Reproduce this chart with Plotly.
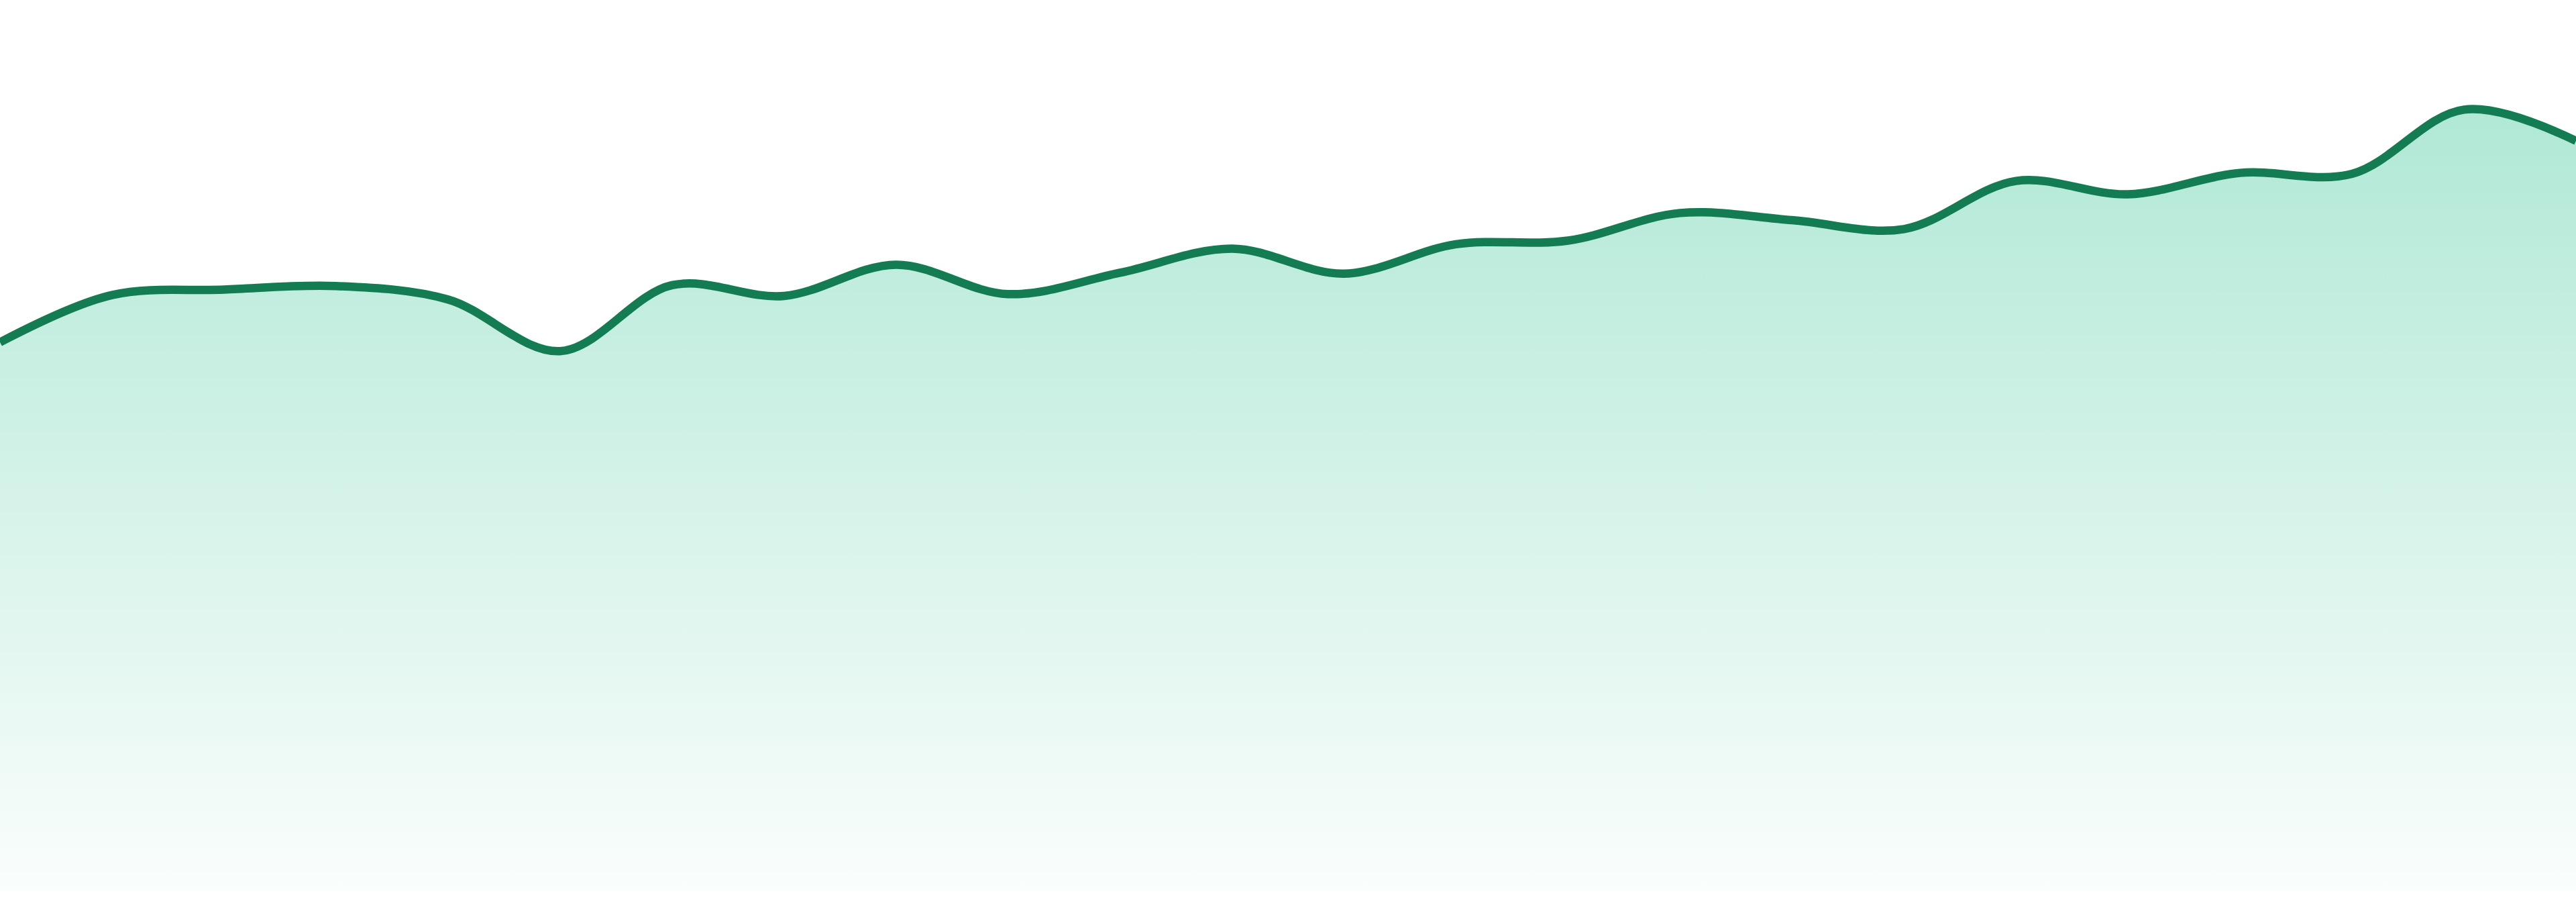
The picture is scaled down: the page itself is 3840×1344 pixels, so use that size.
import plotly.graph_objects as go

# x positions (evenly spaced samples) and values
points = list(range(24))
values = [61.6, 66.9, 67.5, 67.9, 66.4, 60.6, 68.0, 66.8, 70.3, 67.0, 69.4, 72.1,
          69.3, 72.6, 73.0, 76.1, 75.3, 74.3, 79.7, 78.2, 80.6, 80.5, 87.7, 84.2]

y_range = [0, 100]

LINE = "#137c52"

fig = go.Figure()
fig.add_trace(go.Scatter(
    x=points,
    y=values,
    mode="lines",
    line=dict(color=LINE, width=12.5, shape="spline", smoothing=1.0),
    fill="tozeroy",
    fillgradient=dict(
        type="vertical",
        start=0,
        stop=max(values),
        colorscale=[[0, "rgba(16,185,129,0.02)"], [1, "rgba(16,185,129,0.33)"]],
    ),
    hoverinfo="skip",
    showlegend=False,
))

fig.update_layout(
    width=3840,
    height=1344,
    margin=dict(l=0, r=0, t=0, b=16),
    paper_bgcolor="white",
    plot_bgcolor="white",
    xaxis=dict(range=[points[0], points[-1]], visible=False, showgrid=False, zeroline=False),
    yaxis=dict(range=y_range, visible=False, showgrid=False, zeroline=False),
)

fig.write_html(
    "out.html",
    config={"displayModeBar": False},
    post_script="document.body.style.margin='0px';document.body.style.overflow='hidden';",
)
